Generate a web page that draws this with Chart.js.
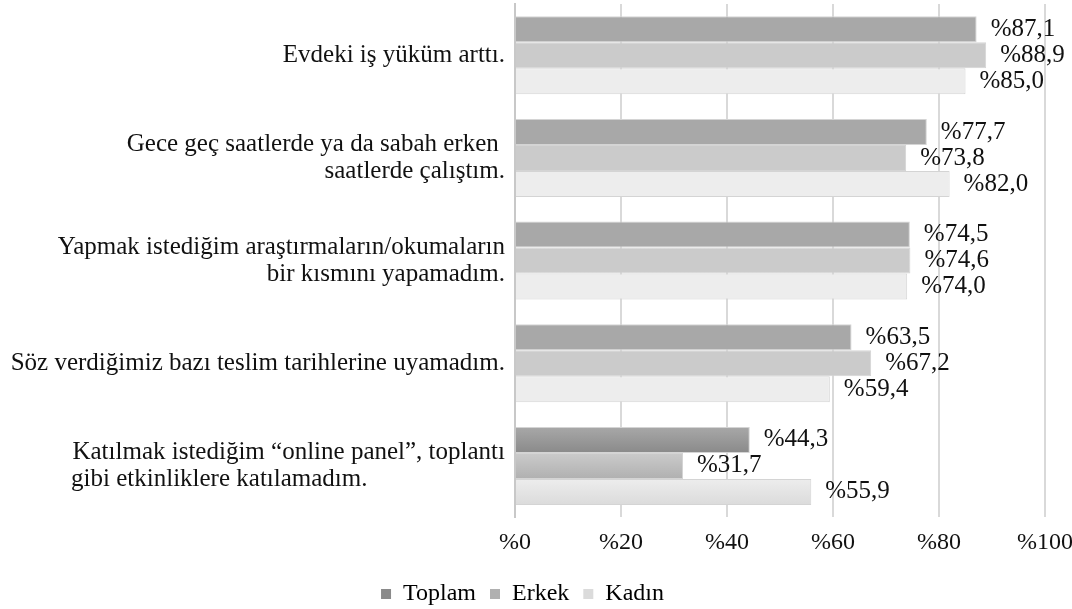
<!DOCTYPE html>
<html>
<head>
<meta charset="utf-8">
<script src="https://cdn.jsdelivr.net/npm/chart.js@4.4.0/dist/chart.umd.min.js"></script>
<style>
  html, body { margin: 0; padding: 0; background: #fff; }
  #wrap { width: 1072px; height: 609px; }
</style>
</head>
<body>
<div id="wrap"><canvas id="barChart" width="1072" height="609"></canvas></div>
<script>
const categories = [
  ["Evdeki iş yüküm arttı."],
  ["Gece geç saatlerde ya da sabah erken ", "saatlerde çalıştım."],
  ["Yapmak istediğim araştırmaların/okumaların", "bir kısmını yapamadım."],
  ["Söz verdiğimiz bazı teslim tarihlerine uyamadım."],
  ["Katılmak istediğim “online panel”, toplantı", "gibi etkinliklere katılamadım." + "\u00a0".repeat(22)]
];
const seriesNames = ["Toplam", "Erkek", "Kadın"];
const toplam = [87.1, 77.7, 74.5, 63.5, 44.3];
const erkek = [88.9, 73.8, 74.6, 67.2, 31.7];
const kadin = [85.0, 82.0, 74.0, 59.4, 55.9];
const xTicks = [0, 20, 40, 60, 80, 100];

// top / bottom colours of the bar shading
const shades = [
  ["#a8a8a8", "#8a8a8a"],
  ["#cbcbcb", "#b0b0b0"],
  ["#ededed", "#dbdbdb"]
];
const FONT = "'Liberation Serif', 'Times New Roman', serif";

function fmt(v) {
  return "%" + v.toFixed(1).replace(".", ",");
}

// per-bar vertical gradient
const shadePlugin = {
  id: "shade",
  beforeDatasetDraw(chart, args) {
    const ctx = chart.ctx;
    const cols = shades[args.index];
    args.meta.data.forEach(bar => {
      const top = bar.y - bar.height / 2;
      const g = ctx.createLinearGradient(0, top, 0, top + bar.height);
      g.addColorStop(0, cols[0]);
      g.addColorStop(1, cols[1]);
      bar.options.backgroundColor = g;
    });
  }
};

// value labels right of each bar
const valueLabels = {
  id: "valueLabels",
  afterDatasetsDraw(chart) {
    const ctx = chart.ctx;
    ctx.save();
    ctx.font = "25px " + FONT;
    ctx.fillStyle = "#111";
    ctx.textAlign = "left";
    ctx.textBaseline = "middle";
    chart.data.datasets.forEach((ds, i) => {
      chart.getDatasetMeta(i).data.forEach((bar, j) => {
        ctx.fillText(fmt(ds.data[j]), bar.x + 14, bar.y);
      });
    });
    ctx.restore();
  }
};

const ctx = document.getElementById("barChart").getContext("2d");
new Chart(ctx, {
  type: "bar",
  data: {
    labels: categories,
    datasets: [toplam, erkek, kadin].map((d, i) => ({
      label: seriesNames[i],
      data: d,
      backgroundColor: shades[i][1],
      borderColor: "#d4d4d4",
      borderWidth: 1,
      categoryPercentage: 0.76,
      barPercentage: 1.0
    }))
  },
  options: {
    indexAxis: "y",
    responsive: false,
    animation: false,
    layout: { padding: { top: 4, right: 27, left: 0, bottom: -7 } },
    scales: {
      x: {
        min: 0,
        max: 100,
        afterBuildTicks: axis => { axis.ticks = xTicks.map(v => ({ value: v })); },
        afterFit: axis => { axis.paddingLeft = 0; axis.paddingRight = 0; },
        grid: { color: "#d9d9d9", lineWidth: 2, drawTicks: false },
        border: { display: false },
        ticks: {
          padding: 11,
          color: "#111",
          font: { family: FONT, size: 24 },
          callback: v => "%" + v
        }
      },
      y: {
        afterFit: axis => {
          axis.width = 515;
          axis.paddingTop = 0;
          axis.paddingBottom = 0;
        },
        grid: { display: false, drawTicks: false },
        border: { display: true, color: "#c8c8c8", width: 2 },
        ticks: {
          padding: 10,
          color: "#111",
          font: { family: FONT, size: 25, lineHeight: 1.08 }
        }
      }
    },
    plugins: {
      legend: {
        position: "bottom",
        labels: {
          boxWidth: 10,
          boxHeight: 10,
          padding: 14,
          color: "#111",
          font: { family: FONT, size: 24 },
          generateLabels: chart => chart.data.datasets.map((ds, i) => ({
            text: ds.label,
            fillStyle: shades[i][1],
            strokeStyle: shades[i][1],
            lineWidth: 0,
            datasetIndex: i
          }))
        }
      },
      tooltip: { enabled: false }
    }
  },
  plugins: [shadePlugin, valueLabels]
});
</script>
</body>
</html>
